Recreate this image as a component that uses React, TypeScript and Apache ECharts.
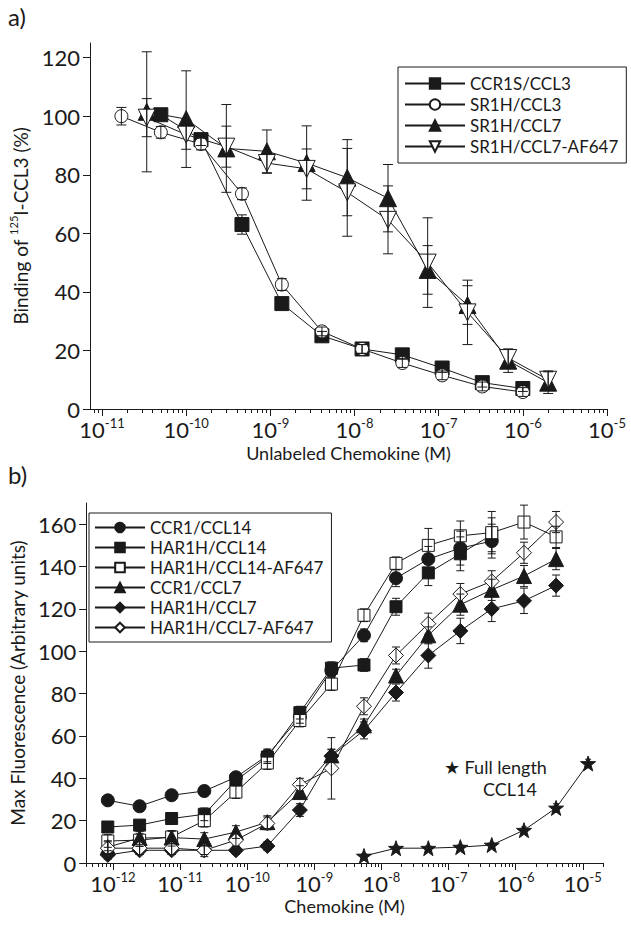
import React, { useEffect, useRef } from "react";
import * as echarts from "echarts";

// ---------- Panel a data ----------
const aConcCCL3 = [1.7e-11, 5e-11, 1.5e-10, 4.6e-10, 1.37e-9, 4.1e-9, 1.23e-8, 3.7e-8, 1.1e-7, 3.3e-7, 1e-6];
const ccr1sCcl3 = [null, 100.5, 92, 63, 36, 25, 20.5, 18.5, 14, 9, 7];
const ccr1sCcl3Err = [0, 1.5, 2, 3.3, 1.5, 1.5, 1.5, 1.5, 1.5, 1.5, 1];
const sr1hCcl3 = [100, 94.5, 90.5, 73.5, 42.5, 26.5, 20.5, 15.7, 11.5, 7.7, 5.8];
const sr1hCcl3Err = [3, 2, 2, 2, 2, 1.5, 1.5, 1.5, 1.5, 1.5, 1.5];
const aConcCCL7 = [3.4e-11, 1e-10, 3e-10, 9.1e-10, 2.7e-9, 8.2e-9, 2.5e-8, 7.4e-8, 2.2e-7, 6.7e-7, 2e-6];
const sr1hCcl7 = [101.5, 99, 89, 88, 84, 79, 72, 47.5, 35.5, 16.5, 9];
const sr1hCcl7Err = [20.5, 16.5, 15, 7.3, 12.7, 13, 11.5, 8.3, 6.6, 4, 3.7];
const sr1hCcl7Af = [99.5, 93.7, 89.6, 84, 82, 74, 64.6, 50, 33, 17.4, 10];
const sr1hCcl7AfErr = [6.5, 5, 7, 3.5, 6.8, 15, 11.6, 15.3, 11, 3, 3];
const aXTicks = [1e-11, 1e-10, 1e-9, 1e-8, 1e-7, 1e-6, 1e-5];
const aYTicks = [0, 20, 40, 60, 80, 100, 120];

// ---------- Panel b data ----------
const bConc = [8.4e-13, 2.5e-12, 7.5e-12, 2.3e-11, 6.8e-11, 2.0e-10, 6.1e-10, 1.8e-9, 5.5e-9, 1.65e-8, 5e-8, 1.5e-7, 4.4e-7, 1.33e-6, 4e-6, 1.2e-5];
const ccr1Ccl14 = [29.6, 26.8, 32, 34, 40.5, 50.8, 69, 91, 107.5, 134.5, 143.5, 148.7, 152];
const ccr1Ccl14Err = [2, 2, 2, 2, 2, 3, 3, 3, 3, 4, 6, 8, 8];
const har1hCcl14 = [17, 17.9, 21, 23, 39, 50, 71, 92, 93.5, 121, 137, 146, 155];
const har1hCcl14Err = [2, 2, 2, 3, 2, 3, 3, 3, 3, 4, 6, 8, 8];
const har1hCcl14Af = [10.4, 10.8, 12.3, 20, 33.5, 47.2, 67.3, 84.5, 117, 141.5, 150, 154.5, 156, 161, 154];
const har1hCcl14AfErr = [3, 3, 3, 3, 3, 3, 3, 3, 3, 3, 8, 7, 10, 8, 5];
const ccr1Ccl7 = [7.5, 11.8, 12, 11.3, 14.6, 19.3, 33.5, 50.8, 65, 88.5, 107.5, 122, 129, 135.5, 143.5];
const ccr1Ccl7Err = [3, 3, 3, 3, 3, 3, 3, 3, 3, 3, 4, 5, 5, 5, 5];
const har1hCcl7 = [3.8, 6, 6, 6, 6, 8, 25, 50.5, 62.6, 80.5, 98, 109.6, 120, 123.8, 131];
const har1hCcl7Err = [2, 2, 2, 2, 2, 2, 3, 3, 4, 4, 6, 6, 6, 6, 5];
const har1hCcl7Af = [7, 7, 7, 6, 10.8, 18.7, 37, 44.7, 74, 98, 113, 127, 133, 146.5, 161];
const har1hCcl7AfErr = [3, 3, 3, 3, 3, 3, 3, 14.5, 4, 4, 5, 5, 5, 5, 5];
const fullCcl14 = [null, null, null, null, null, null, null, null, 3.3, 7, 7, 7.5, 8.5, 15.5, 26, 47];
const fullCcl14Err = [0, 0, 0, 0, 0, 0, 0, 0, 1, 1, 1, 1, 1, 1.5, 2, 2];
const bXTicks = [1e-12, 1e-11, 1e-10, 1e-9, 1e-8, 1e-7, 1e-6, 1e-5];
const bYTicks = [0, 20, 40, 60, 80, 100, 120, 140, 160];

const FONT = "Lato, 'Open Sans', sans-serif";
const INK = "#1a1a1a";
const STAR =
  "path://M0,-10 L2.35,-3.24 L9.51,-3.09 L3.8,1.24 L5.88,8.09 L0,4 L-5.88,8.09 L-3.8,1.24 L-9.51,-3.09 L-2.35,-3.24 Z";

function minorTicks(lo: number, hi: number) {
  const out: number[] = [];
  for (let d = -14; d <= -4; d++) {
    for (let m = 2; m <= 9; m++) {
      const v = m * Math.pow(10, d);
      if (v >= lo && v <= hi) out.push(v);
    }
  }
  return out;
}

function pairs(xs: number[], ys: (number | null)[]) {
  const out: number[][] = [];
  ys.forEach((y, i) => {
    if (y != null) out.push([xs[i], y]);
  });
  return out;
}
function triples(xs: number[], ys: (number | null)[], es: number[]) {
  const out: number[][] = [];
  ys.forEach((y, i) => {
    if (y != null && es[i] > 0) out.push([xs[i], y, es[i]]);
  });
  return out;
}

function lineSeries(
  name: string,
  grid: number,
  data: number[][],
  symbol: string,
  size: number,
  filled: boolean,
  rotate = 0
) {
  return {
    type: "line",
    name,
    xAxisIndex: grid * 2,
    yAxisIndex: grid,
    data,
    symbol,
    symbolSize: size,
    symbolRotate: rotate,
    showAllSymbol: true,
    lineStyle: { color: INK, width: 1 },
    itemStyle: { color: filled ? INK : "#fff", borderColor: INK, borderWidth: 1 },
    emphasis: { disabled: true },
    z: 2,
  };
}

function errSeries(grid: number, data: number[][], cap: number) {
  return {
    type: "custom",
    xAxisIndex: grid * 2,
    yAxisIndex: grid,
    data,
    dimensions: ["x", "y", "e"],
    encode: { x: 0, y: 1 },
    z: 3,
    silent: true,
    renderItem: (params: any, api: any) => {
      const x = api.value(0);
      const y = api.value(1);
      const e = api.value(2);
      const top = api.coord([x, y + e]);
      const bot = api.coord([x, Math.max(y - e, 0.0001)]);
      const hw = cap / 2;
      const st = { stroke: INK, lineWidth: 1 };
      return {
        type: "group",
        children: [
          { type: "line", shape: { x1: top[0], y1: top[1], x2: bot[0], y2: bot[1] }, style: st },
          { type: "line", shape: { x1: top[0] - hw, y1: top[1], x2: top[0] + hw, y2: top[1] }, style: st },
          { type: "line", shape: { x1: bot[0] - hw, y1: bot[1], x2: bot[0] + hw, y2: bot[1] }, style: st },
        ],
      };
    },
  };
}

const expLabel = (v: number) => `{b|10}{s|${Math.round(Math.log10(v))}}`;
const expRich = {
  b: { fontSize: 22, fontFamily: FONT, color: INK, lineHeight: 24, verticalAlign: "bottom" },
  s: { fontSize: 13, fontFamily: FONT, color: INK, lineHeight: 14, verticalAlign: "top" },
};

function xAxes(grid: number, min: number, max: number, majors: number[], name: string, gap: number) {
  return [
    {
      type: "log",
      gridIndex: grid,
      min,
      max,
      position: "bottom",
      name,
      nameLocation: "middle",
      nameGap: gap,
      nameTextStyle: { fontSize: 18, fontFamily: FONT, color: INK },
      axisLine: { show: true, lineStyle: { color: INK, width: 1 } },
      axisTick: { show: true, length: 7, customValues: majors, lineStyle: { color: INK } },
      axisLabel: { show: true, customValues: majors, formatter: expLabel, rich: expRich, margin: 7 },
      splitLine: { show: false },
      minorTick: { show: false },
    },
    {
      type: "log",
      gridIndex: grid,
      min,
      max,
      position: "bottom",
      axisLine: { show: false },
      axisTick: { show: true, length: 4, customValues: minorTicks(min, max), lineStyle: { color: INK } },
      axisLabel: { show: false },
      splitLine: { show: false },
    },
  ];
}

function yAxis(grid: number, max: number, ticks: number[], name: string, gap: number) {
  return {
    type: "value",
    gridIndex: grid,
    min: 0,
    max,
    name,
    nameLocation: "middle",
    nameRotate: 90,
    nameGap: gap,
    nameTextStyle: {
      fontSize: 19,
      fontFamily: FONT,
      color: INK,
      rich: {
        n: { fontSize: 19, fontFamily: FONT, color: INK, lineHeight: 22, verticalAlign: "bottom" },
        s: { fontSize: 11, fontFamily: FONT, color: INK, lineHeight: 12, verticalAlign: "top" },
      },
    },
    axisLine: { show: true, lineStyle: { color: INK, width: 1 } },
    axisTick: { show: true, length: 7, customValues: ticks, lineStyle: { color: INK } },
    axisLabel: {
      show: true,
      customValues: ticks,
      fontSize: 22,
      lineHeight: 17,
      fontFamily: FONT,
      color: INK,
      margin: 10,
    },
    splitLine: { show: false },
  };
}

const legendText = { fontSize: 17, fontFamily: FONT, color: INK };

const option: any = {
  animation: false,
  backgroundColor: "#fff",
  grid: [
    { left: 90, right: 24, top: 43, bottom: 523 },
    { left: 85, right: 28, top: 503, bottom: 69 },
  ],
  xAxis: [
    ...xAxes(0, 7.2e-12, 1e-5, aXTicks, "Unlabeled Chemokine (M)", 35),
    ...xAxes(1, 4e-13, 2e-5, bXTicks, "Chemokine (M)", 34),
  ],
  yAxis: [
    yAxis(0, 125, aYTicks, "{n|Binding of }{s|125}{n|I-CCL3 (%)}", 60),
    yAxis(1, 170, bYTicks, "Max Fluorescence (Arbitrary units)", 58),
  ],
  legend: [
    {
      data: ["CCR1S/CCL3", "SR1H/CCL3", "SR1H/CCL7", "SR1H/CCL7-AF647"],
      orient: "vertical",
      left: 398,
      top: 67,
      itemWidth: 60,
      itemHeight: 13,
      itemGap: 4,
      padding: [8, 8, 8, 6],
      borderColor: INK,
      borderWidth: 1,
      selectedMode: false,
      textStyle: legendText,
    },
    {
      data: ["CCR1/CCL14", "HAR1H/CCL14", "HAR1H/CCL14-AF647", "CCR1/CCL7", "HAR1H/CCL7", "HAR1H/CCL7-AF647"],
      orient: "vertical",
      left: 89,
      top: 513,
      itemWidth: 50,
      itemHeight: 12,
      itemGap: 3,
      padding: [6, 8, 6, 5],
      borderColor: INK,
      borderWidth: 1,
      selectedMode: false,
      textStyle: legendText,
    },
  ],
  graphic: [
    { type: "text", left: 8, top: 4, style: { text: "a)", fontSize: 24, fontFamily: FONT, fill: INK } },
    { type: "text", left: 8, top: 462, style: { text: "b)", fontSize: 24, fontFamily: FONT, fill: INK } },
    { type: "text", left: 444, top: 758, style: { text: "★ Full length", fontSize: 18, fontFamily: FONT, fill: INK } },
    { type: "text", left: 483, top: 780, style: { text: "CCL14", fontSize: 18, fontFamily: FONT, fill: INK } },
  ],
  series: [
    lineSeries("CCR1S/CCL3", 0, pairs(aConcCCL3, ccr1sCcl3), "rect", 14, true),
    lineSeries("SR1H/CCL3", 0, pairs(aConcCCL3, sr1hCcl3), "circle", 13, false),
    lineSeries("SR1H/CCL7", 0, pairs(aConcCCL7, sr1hCcl7), "triangle", 17, true),
    lineSeries("SR1H/CCL7-AF647", 0, pairs(aConcCCL7, sr1hCcl7Af), "triangle", 17, false, 180),
    errSeries(0, triples(aConcCCL3, ccr1sCcl3, ccr1sCcl3Err), 10),
    errSeries(0, triples(aConcCCL3, sr1hCcl3, sr1hCcl3Err), 10),
    errSeries(0, triples(aConcCCL7, sr1hCcl7, sr1hCcl7Err), 10),
    errSeries(0, triples(aConcCCL7, sr1hCcl7Af, sr1hCcl7AfErr), 10),

    lineSeries("CCR1/CCL14", 1, pairs(bConc, ccr1Ccl14), "circle", 13, true),
    lineSeries("HAR1H/CCL14", 1, pairs(bConc, har1hCcl14), "rect", 12, true),
    lineSeries("HAR1H/CCL14-AF647", 1, pairs(bConc, har1hCcl14Af), "rect", 12, false),
    lineSeries("CCR1/CCL7", 1, pairs(bConc, ccr1Ccl7), "triangle", 15, true),
    lineSeries("HAR1H/CCL7", 1, pairs(bConc, har1hCcl7), "diamond", 15, true),
    lineSeries("HAR1H/CCL7-AF647", 1, pairs(bConc, har1hCcl7Af), "diamond", 15, false),
    lineSeries("Full length CCL14", 1, pairs(bConc, fullCcl14), STAR, 15, true),
    errSeries(1, triples(bConc, ccr1Ccl14, ccr1Ccl14Err), 8),
    errSeries(1, triples(bConc, har1hCcl14, har1hCcl14Err), 8),
    errSeries(1, triples(bConc, har1hCcl14Af, har1hCcl14AfErr), 8),
    errSeries(1, triples(bConc, ccr1Ccl7, ccr1Ccl7Err), 8),
    errSeries(1, triples(bConc, har1hCcl7, har1hCcl7Err), 8),
    errSeries(1, triples(bConc, har1hCcl7Af, har1hCcl7AfErr), 8),
    errSeries(1, triples(bConc, fullCcl14, fullCcl14Err), 6),
  ],
};

export default function App() {
  const ref = useRef<HTMLDivElement>(null);
  useEffect(() => {
    const chart = echarts.init(ref.current!, null, { renderer: "svg" });
    chart.setOption(option);
    return () => chart.dispose();
  }, []);
  return (
    <div
      ref={ref}
      style={{ position: "absolute", left: 0, top: 0, width: 631, height: 932, background: "#fff" }}
    />
  );
}
